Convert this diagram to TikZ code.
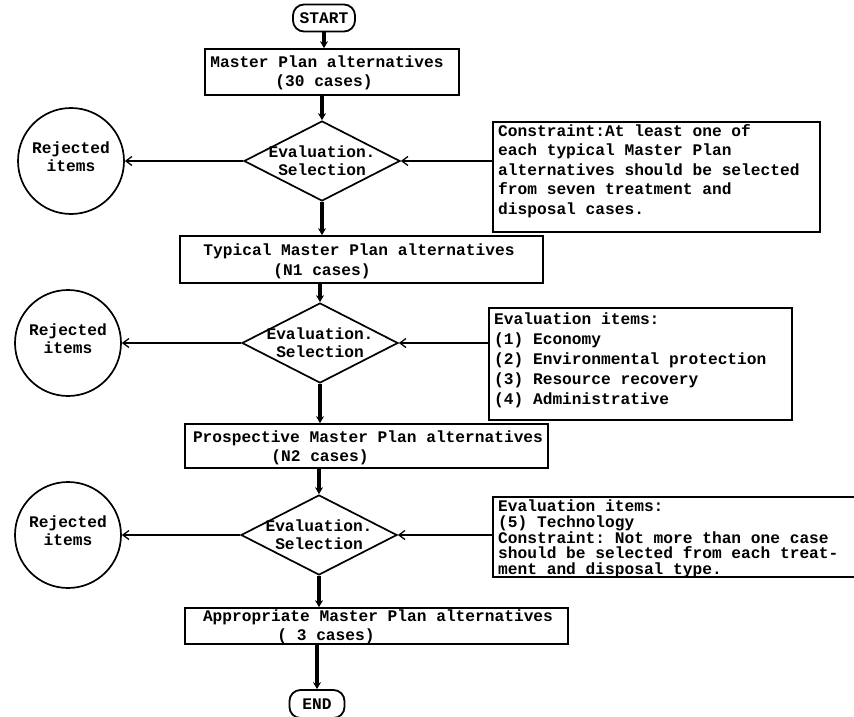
\documentclass[tikz,border=0pt]{standalone}
\usepackage{fontspec}
\setmainfont{Liberation Mono}
\usetikzlibrary{shapes.geometric,arrows.meta}
\frenchspacing
\begin{document}
\begin{tikzpicture}[x=1pt,y=-1pt,
  every node/.style={font=\fontsize{16.2}{18}\selectfont\bfseries},
  txt/.style={inner sep=0pt, align=center},
  notetxt/.style={inner sep=0pt, align=left, anchor=north west},
  boxst/.style={draw, line width=1.7pt, rectangle, inner sep=0pt},
  termst/.style={draw, line width=1.8pt, rounded corners=11pt, inner sep=0pt, minimum width=62pt, minimum height=27pt},
  dia/.style={draw, diamond, line width=1.7pt, inner sep=0pt, minimum width=156pt, minimum height=80pt},
  circ/.style={draw, circle, line width=1.7pt, inner sep=0pt, minimum size=106pt},
  flow/.style={line width=3.4pt, -{Stealth[length=7pt,width=8pt]}},
  side/.style={line width=1.3pt, -{Straight Barb[length=6pt,width=9pt,line width=1.3pt]}}
]
\useasboundingbox[fill=white] (0,0) rectangle (854,717);

% main column
\node[termst] (start) at (324,18) {START};

\node[boxst, minimum width=254pt, minimum height=46pt] (b1) at (332,72) {};
\node[txt] (b1a) at (327,62) {Master Plan alternatives};
\node[txt] (b1b) at (324,82) {(30 cases)};

\node[dia] (d1) at (322,161) {};
\node[txt] (d1t) at (322,161) {Evaluation.\\Selection};
\node[circ] (r1) at (71,161) {};
\node[txt] (r1t) at (71,157) {Rejected\\items};
\node[boxst, minimum width=327pt, minimum height=110pt] (c1) at (656.5,177) {};
\node[notetxt, font=\fontsize{16.2}{19.5}\selectfont\bfseries] (c1t) at (498,124)
  {Constraint:At least one of\\each typical Master Plan\\alternatives should be selected\\from seven treatment and\\disposal cases.};

\node[boxst, minimum width=363pt, minimum height=47pt] (b2) at (361.5,259.5) {};
\node[txt] (b2a) at (359,251) {Typical Master Plan alternatives};
\node[txt] (b2b) at (322,271) {(N1 cases)};

\node[dia] (d2) at (320,343) {};
\node[txt] (d2t) at (320,343) {Evaluation.\\Selection};
\node[circ] (r2) at (68,343) {};
\node[txt] (r2t) at (68,339) {Rejected\\items};
\node[boxst, minimum width=303pt, minimum height=112pt] (c2) at (640.5,364) {};
\node[notetxt, font=\fontsize{16.2}{20}\selectfont\bfseries] (c2t) at (494,313)
  {Evaluation items:\\(1) Economy\\(2) Environmental protection\\(3) Resource recovery\\(4) Administrative};

\node[boxst, minimum width=363pt, minimum height=44pt] (b3) at (366.5,446) {};
\node[txt] (b3a) at (368,438) {Prospective Master Plan alternatives};
\node[txt] (b3b) at (320,457) {(N2 cases)};

\node[dia] (d3) at (319,535) {};
\node[txt] (d3t) at (319,535) {Evaluation.\\Selection};
\node[circ] (r3) at (68,535) {};
\node[txt] (r3t) at (68,531) {Rejected\\items};
\node[boxst, minimum width=387pt, minimum height=80pt] (c3) at (686.5,537) {};
\node[notetxt, font=\fontsize{16.2}{15.6}\selectfont\bfseries] (c3t) at (498,500)
  {Evaluation items:\\(5) Technology\\Constraint: Not more than one case\\should be selected from each treat-\\ment and disposal type.};

\node[boxst, minimum width=383pt, minimum height=36pt] (b4) at (376.5,626) {};
\node[txt] (b4a) at (378,617) {Appropriate Master Plan alternatives};
\node[txt] (b4b) at (326,636) {( 3 cases)};

\node[termst, minimum width=55pt, minimum height=28pt] (end) at (317,704) {END};

% vertical flow
\draw[flow] (start.south) -- (start.south |- b1.north);
\draw[flow] (d1.north |- b1.south) -- (d1.north);
\draw[flow] (d1.south) -- (d1.south |- b2.north);
\draw[flow] (d2.north |- b2.south) -- (d2.north);
\draw[flow] (d2.south) -- (d2.south |- b3.north);
\draw[flow] (d3.north |- b3.south) -- (d3.north);
\draw[flow] (d3.south) -- (d3.south |- b4.north);
\draw[flow] (end.north |- b4.south) -- (end.north);

% side arrows
\draw[side] (c1.west |- d1.east) -- (d1.east);
\draw[side] (d1.west) -- (r1.east);
\draw[side] (c2.west |- d2.east) -- (d2.east);
\draw[side] (d2.west) -- (r2.east);
\draw[side] (c3.west |- d3.east) -- (d3.east);
\draw[side] (d3.west) -- (r3.east);
\end{tikzpicture}
\end{document}
